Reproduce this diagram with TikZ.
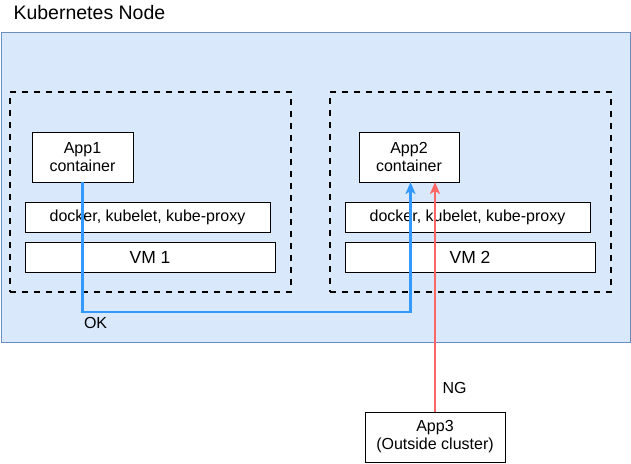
\documentclass[tikz,border=0pt]{standalone}
\usepackage{fontspec}
\setmainfont{Liberation Sans}
\usetikzlibrary{positioning, arrows.meta}
\definecolor{nodefill}{HTML}{DAE8FC}
\definecolor{nodeline}{HTML}{6C8EBF}
\definecolor{okblue}{HTML}{3399FF}
\definecolor{ngred}{HTML}{FF6666}
\tikzset{
    block/.style={
        draw, fill = white, line width = 0.8pt,
        inner sep = 0pt, outer sep = 0pt,
        align = center,
        font = \fontsize{16}{18}\selectfont
    },
    layer/.style = {block, minimum height = 30pt},
    vmarea/.style = {draw, line width = 1.8pt, dash pattern = on 6pt off 6pt,
        inner sep = 0pt, outer sep = 0pt},
    line/.style = {line width = 2.6pt, -{Stealth[length=12pt, width=10pt, inset=3pt]}}
}
\begin{document}
\begin{tikzpicture}[x = 1pt, y = -1pt]
    \useasboundingbox (0,0) rectangle (631,463);

    \node[anchor = base west, font = \fontsize{19.5}{22}\selectfont] (title) at (10,19) {Kubernetes Node};
    \node[draw = nodeline, fill = nodefill, line width = 0.8pt, inner sep = 0pt,
        minimum width = 629.5pt, minimum height = 310pt, anchor = north west] (k8s) at (0.5,32) {};

    \node[vmarea, minimum width = 281pt, minimum height = 200pt] (vm1area) at (150.5,192) {};
    \node[vmarea, minimum width = 281pt, minimum height = 200pt] (vm2area) at (470.5,192) {};

    \node[block, minimum width = 101pt, minimum height = 50pt] (app1) at (82.5,157) {App1\\container};
    \node[layer, minimum width = 245pt, below right = 20pt and -7pt of app1.south west] (docker1) {docker, kubelet, kube-proxy};
    \node[layer, minimum width = 250pt, below right = 10pt and 0pt of docker1.south west,
        font = \fontsize{17.5}{20}\selectfont] (vm1) {VM 1};

    \node[block, minimum width = 100pt, minimum height = 50pt] (app2) at (409,157) {App2\\container};
    \node[layer, minimum width = 245pt, below right = 20pt and -14pt of app2.south west] (docker2) {docker, kubelet, kube-proxy};
    \node[layer, minimum width = 250pt, below right = 10pt and 0pt of docker2.south west,
        font = \fontsize{17.5}{20}\selectfont] (vm2) {VM 2};

    \node[block, minimum width = 140pt, minimum height = 50pt] (app3) at (435,437) {App3\\(Outside cluster)};

    \coordinate (okcorner) at (82.5,312);
    \draw[line, okblue] (app1.south) -- (okcorner) -| ([xshift = 1.5pt]app2.south);
    \draw[line, ngred] (app3.north) -- (app3.north |- app2.south);

    \node[anchor = base west, font = \fontsize{16}{18}\selectfont] (ok) at (80.5,328) {OK};
    \node[anchor = base west, font = \fontsize{16}{18}\selectfont] (ng) at (439,393) {NG};
\end{tikzpicture}
\end{document}
